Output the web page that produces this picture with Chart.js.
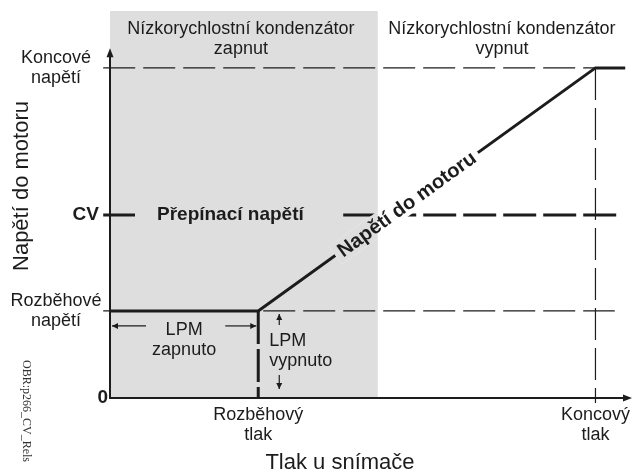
<!DOCTYPE html>
<html>
<head>
<meta charset="utf-8">
<script src="https://cdn.jsdelivr.net/npm/chart.js@4.4.1/dist/chart.umd.min.js"></script>
<style>
  body { margin: 0; background: #fff; }
  #wrap { width: 634px; height: 472px; position: relative; }
</style>
</head>
<body>
<div id="wrap"><canvas id="c"></canvas></div>
<script>
// --- Data ---
const pressurePoints = [0, 28.4, 93, 98.7];      // tlak u snímače
const voltagePoints = [22.5, 22.5, 85.3, 85.3];  // napětí do motoru
const startPressure = 28.4;
const endPressure = 93;
const startVoltage = 22.5;
const switchVoltage = 47.3;
const endVoltage = 85.3;
const capacitorOffAt = 51.3;

const yTickValues = [0, startVoltage, switchVoltage, endVoltage];
const yTickLabels = [['0'], ['Rozběhové', 'napětí'], ['CV'], ['Koncové', 'napětí']];
const xTickValues = [startPressure, endPressure];
const xTickLabels = [['Rozběhový', 'tlak'], ['Koncový', 'tlak']];
const regionEdges = [0, capacitorOffAt, 100];
const regionLabels = [['Nízkorychlostní kondenzátor', 'zapnut'], ['Nízkorychlostní kondenzátor', 'vypnut']];
const switchLabel = 'Přepínací napětí';
const curveLabel = 'Napětí do motoru';
const xTitle = 'Tlak u snímače';
const yTitle = 'Napětí do motoru';
const lpmOn = ['LPM', 'zapnuto'];
const lpmOff = ['LPM', 'vypnuto'];
const figId = 'OBR:p266_CV_Rels';

// --- Styles ---
const INK = '#1c1c1c';
const GREY = '#dedede';
const SANS = '"Liberation Sans", Arial, sans-serif';

function seg(xs, ys) {
    return xs.map((x, i) => ({ x: x, y: ys[i] }));
}

function arrowHead(ctx, x, y, ang, len, half) {
    ctx.save();
    ctx.translate(x, y);
    ctx.rotate(ang);
    ctx.beginPath();
    ctx.moveTo(0, 0);
    ctx.lineTo(-len, -half);
    ctx.lineTo(-len, half);
    ctx.closePath();
    ctx.fill();
    ctx.restore();
}

function arrow(ctx, x1, y1, x2, y2, len, half) {
    ctx.beginPath();
    ctx.moveTo(x1, y1);
    ctx.lineTo(x2, y2);
    ctx.stroke();
    arrowHead(ctx, x2, y2, Math.atan2(y2 - y1, x2 - x1), len, half);
}

function lines(ctx, arr, x, y, lh) {
    arr.forEach((t, i) => ctx.fillText(t, x, y + i * lh));
}

const diagram = {
    id: 'diagram',
    beforeDatasetsDraw(chart) {
        const { ctx, scales: { x, y } } = chart;
        ctx.save();
        ctx.fillStyle = GREY;
        ctx.fillRect(x.getPixelForValue(regionEdges[0]), y.getPixelForValue(100),
            x.getPixelForValue(regionEdges[1]) - x.getPixelForValue(regionEdges[0]),
            y.getPixelForValue(0) - y.getPixelForValue(100));
        ctx.restore();
    },
    afterDatasetsDraw(chart) {
        const { ctx, scales: { x, y } } = chart;
        const x0 = x.getPixelForValue(0), y0 = y.getPixelForValue(0);
        ctx.save();
        ctx.fillStyle = INK;
        ctx.strokeStyle = INK;

        // osy
        ctx.lineWidth = 2;
        ctx.beginPath();
        ctx.moveTo(x0, y0);
        ctx.lineTo(x0, y.getPixelForValue(90.4) + 6);
        ctx.moveTo(x0 - 1, y0);
        ctx.lineTo(x.getPixelForValue(100) - 6, y0);
        ctx.stroke();
        arrowHead(ctx, x0, y.getPixelForValue(90.4), -Math.PI / 2, 9, 3.5);
        arrowHead(ctx, x.getPixelForValue(100), y0, 0, 9, 3.5);

        // Přepínací napětí (mezera v čáře)
        const cvY = y.getPixelForValue(switchVoltage);
        ctx.fillStyle = GREY;
        ctx.fillRect(x0 + 25, cvY - 4, 207, 8);
        ctx.fillStyle = INK;
        ctx.font = 'bold 19px ' + SANS;
        ctx.textAlign = 'left';
        ctx.textBaseline = 'middle';
        ctx.fillText(switchLabel, x0 + 47, cvY);

        // popisek křivky
        const p1 = { x: x.getPixelForValue(startPressure), y: y.getPixelForValue(startVoltage) };
        const p2 = { x: x.getPixelForValue(endPressure), y: y.getPixelForValue(endVoltage) };
        const ang = Math.atan2(p2.y - p1.y, p2.x - p1.x);
        const t = 0.44;
        const cx = p1.x + (p2.x - p1.x) * t, cy = p1.y + (p2.y - p1.y) * t;
        ctx.font = 'bold 20px ' + SANS;
        const w = ctx.measureText(curveLabel).width + 10;
        const base = ctx.getTransform();
        ctx.save();
        ctx.translate(cx, cy);
        ctx.rotate(ang);
        ctx.beginPath();
        ctx.rect(-w / 2, -11, w, 22);
        ctx.clip();
        ctx.setTransform(base);
        ctx.fillStyle = '#fff';
        ctx.fillRect(0, 0, chart.width, chart.height);
        ctx.fillStyle = GREY;
        ctx.fillRect(x0, y.getPixelForValue(100), x.getPixelForValue(capacitorOffAt) - x0, y0 - y.getPixelForValue(100));
        ctx.translate(cx, cy);
        ctx.rotate(ang);
        ctx.fillStyle = INK;
        ctx.textAlign = 'center';
        ctx.textBaseline = 'middle';
        ctx.fillText(curveLabel, 0, 1);
        ctx.restore();

        // popisky osy Y
        ctx.textAlign = 'center';
        ctx.textBaseline = 'middle';
        yTickValues.forEach((v, i) => {
            const py = y.getPixelForValue(v);
            const lab = yTickLabels[i];
            if (lab.length === 1) {
                ctx.font = 'bold 19px ' + SANS;
                ctx.textAlign = 'right';
                ctx.fillText(lab[0], x0 - (v === 0 ? 2 : 11), py);
            } else {
                ctx.font = '18px ' + SANS;
                ctx.textAlign = 'center';
                lines(ctx, lab, 56, py - 10, 20);
            }
        });

        // popisky osy X
        ctx.font = '18px ' + SANS;
        ctx.textAlign = 'center';
        ctx.textBaseline = 'alphabetic';
        xTickValues.forEach((v, i) => {
            lines(ctx, xTickLabels[i], x.getPixelForValue(v), y0 + 22, 20);
        });

        // oblasti kondenzátoru
        regionLabels.forEach((lab, i) => {
            const mid = (x.getPixelForValue(regionEdges[i]) + x.getPixelForValue(regionEdges[i + 1])) / 2;
            lines(ctx, lab, mid - 3, 34, 20);
        });

        // LPM
        const sx = x.getPixelForValue(startPressure);
        const sy = y.getPixelForValue(startVoltage);
        ctx.lineWidth = 1.2;
        arrow(ctx, x0 + 36, sy + 15, x0 + 2, sy + 15, 6, 3);
        arrow(ctx, sx - 33, sy + 15, sx - 2, sy + 15, 6, 3);
        lines(ctx, lpmOn, (x0 + sx) / 2, sy + 24, 20);
        ctx.textAlign = 'left';
        lines(ctx, lpmOff, sx + 11, sy + 35, 20);
        arrow(ctx, sx + 21, sy + 14, sx + 21, sy + 3, 6, 3);
        arrow(ctx, sx + 21, sy + 64, sx + 21, sy + 78, 6, 3);

        // názvy os
        ctx.font = '22px ' + SANS;
        ctx.textAlign = 'center';
        ctx.fillText(xTitle, 340, 469);
        ctx.save();
        ctx.translate(28, 186);
        ctx.rotate(-Math.PI / 2);
        ctx.fillText(yTitle, 0, 0);
        ctx.restore();

        ctx.save();
        ctx.fillStyle = '#333';
        ctx.font = '12px "Liberation Serif", "Times New Roman", serif';
        ctx.translate(26, 411);
        ctx.rotate(Math.PI / 2);
        ctx.textBaseline = 'middle';
        ctx.fillText(figId, 0, 0);
        ctx.restore();

        ctx.restore();
    }
};

const thin = { borderColor: INK, borderWidth: 1.2, borderDash: [32, 8], showLine: true, pointRadius: 0, clip: false };

new Chart(document.getElementById('c'), {
    type: 'scatter',
    data: {
        datasets: [
            { label: 'Napětí do motoru', data: seg(pressurePoints, voltagePoints), showLine: true,
              borderColor: INK, borderWidth: 3, pointRadius: 0, clip: false, borderJoinStyle: 'miter' },
            Object.assign({ data: seg([startPressure, startPressure], [startVoltage, 0]) }, thin,
              { borderWidth: 3, borderDash: [33, 5] }),
            Object.assign({ data: seg([-1.3, 97.3], [switchVoltage, switchVoltage]) }, thin,
              { borderWidth: 3, borderDash: [33, 7] }),
            Object.assign({ data: seg([endPressure, endPressure], [endVoltage, -1.3]) }, thin),
            Object.assign({ data: seg([-1.3, endPressure], [endVoltage, endVoltage]) }, thin),
            Object.assign({ data: seg([-1.3, 96.7], [startVoltage, startVoltage]) }, thin)
        ]
    },
    options: {
        responsive: true,
        maintainAspectRatio: false,
        animation: false,
        layout: { padding: { left: 110, right: 2, top: 11, bottom: 74 } },
        scales: {
            x: { type: 'linear', min: 0, max: 100, display: false },
            y: { type: 'linear', min: 0, max: 100, display: false }
        },
        plugins: { legend: { display: false }, tooltip: { enabled: false } }
    },
    plugins: [diagram]
});
</script>
</body>
</html>
